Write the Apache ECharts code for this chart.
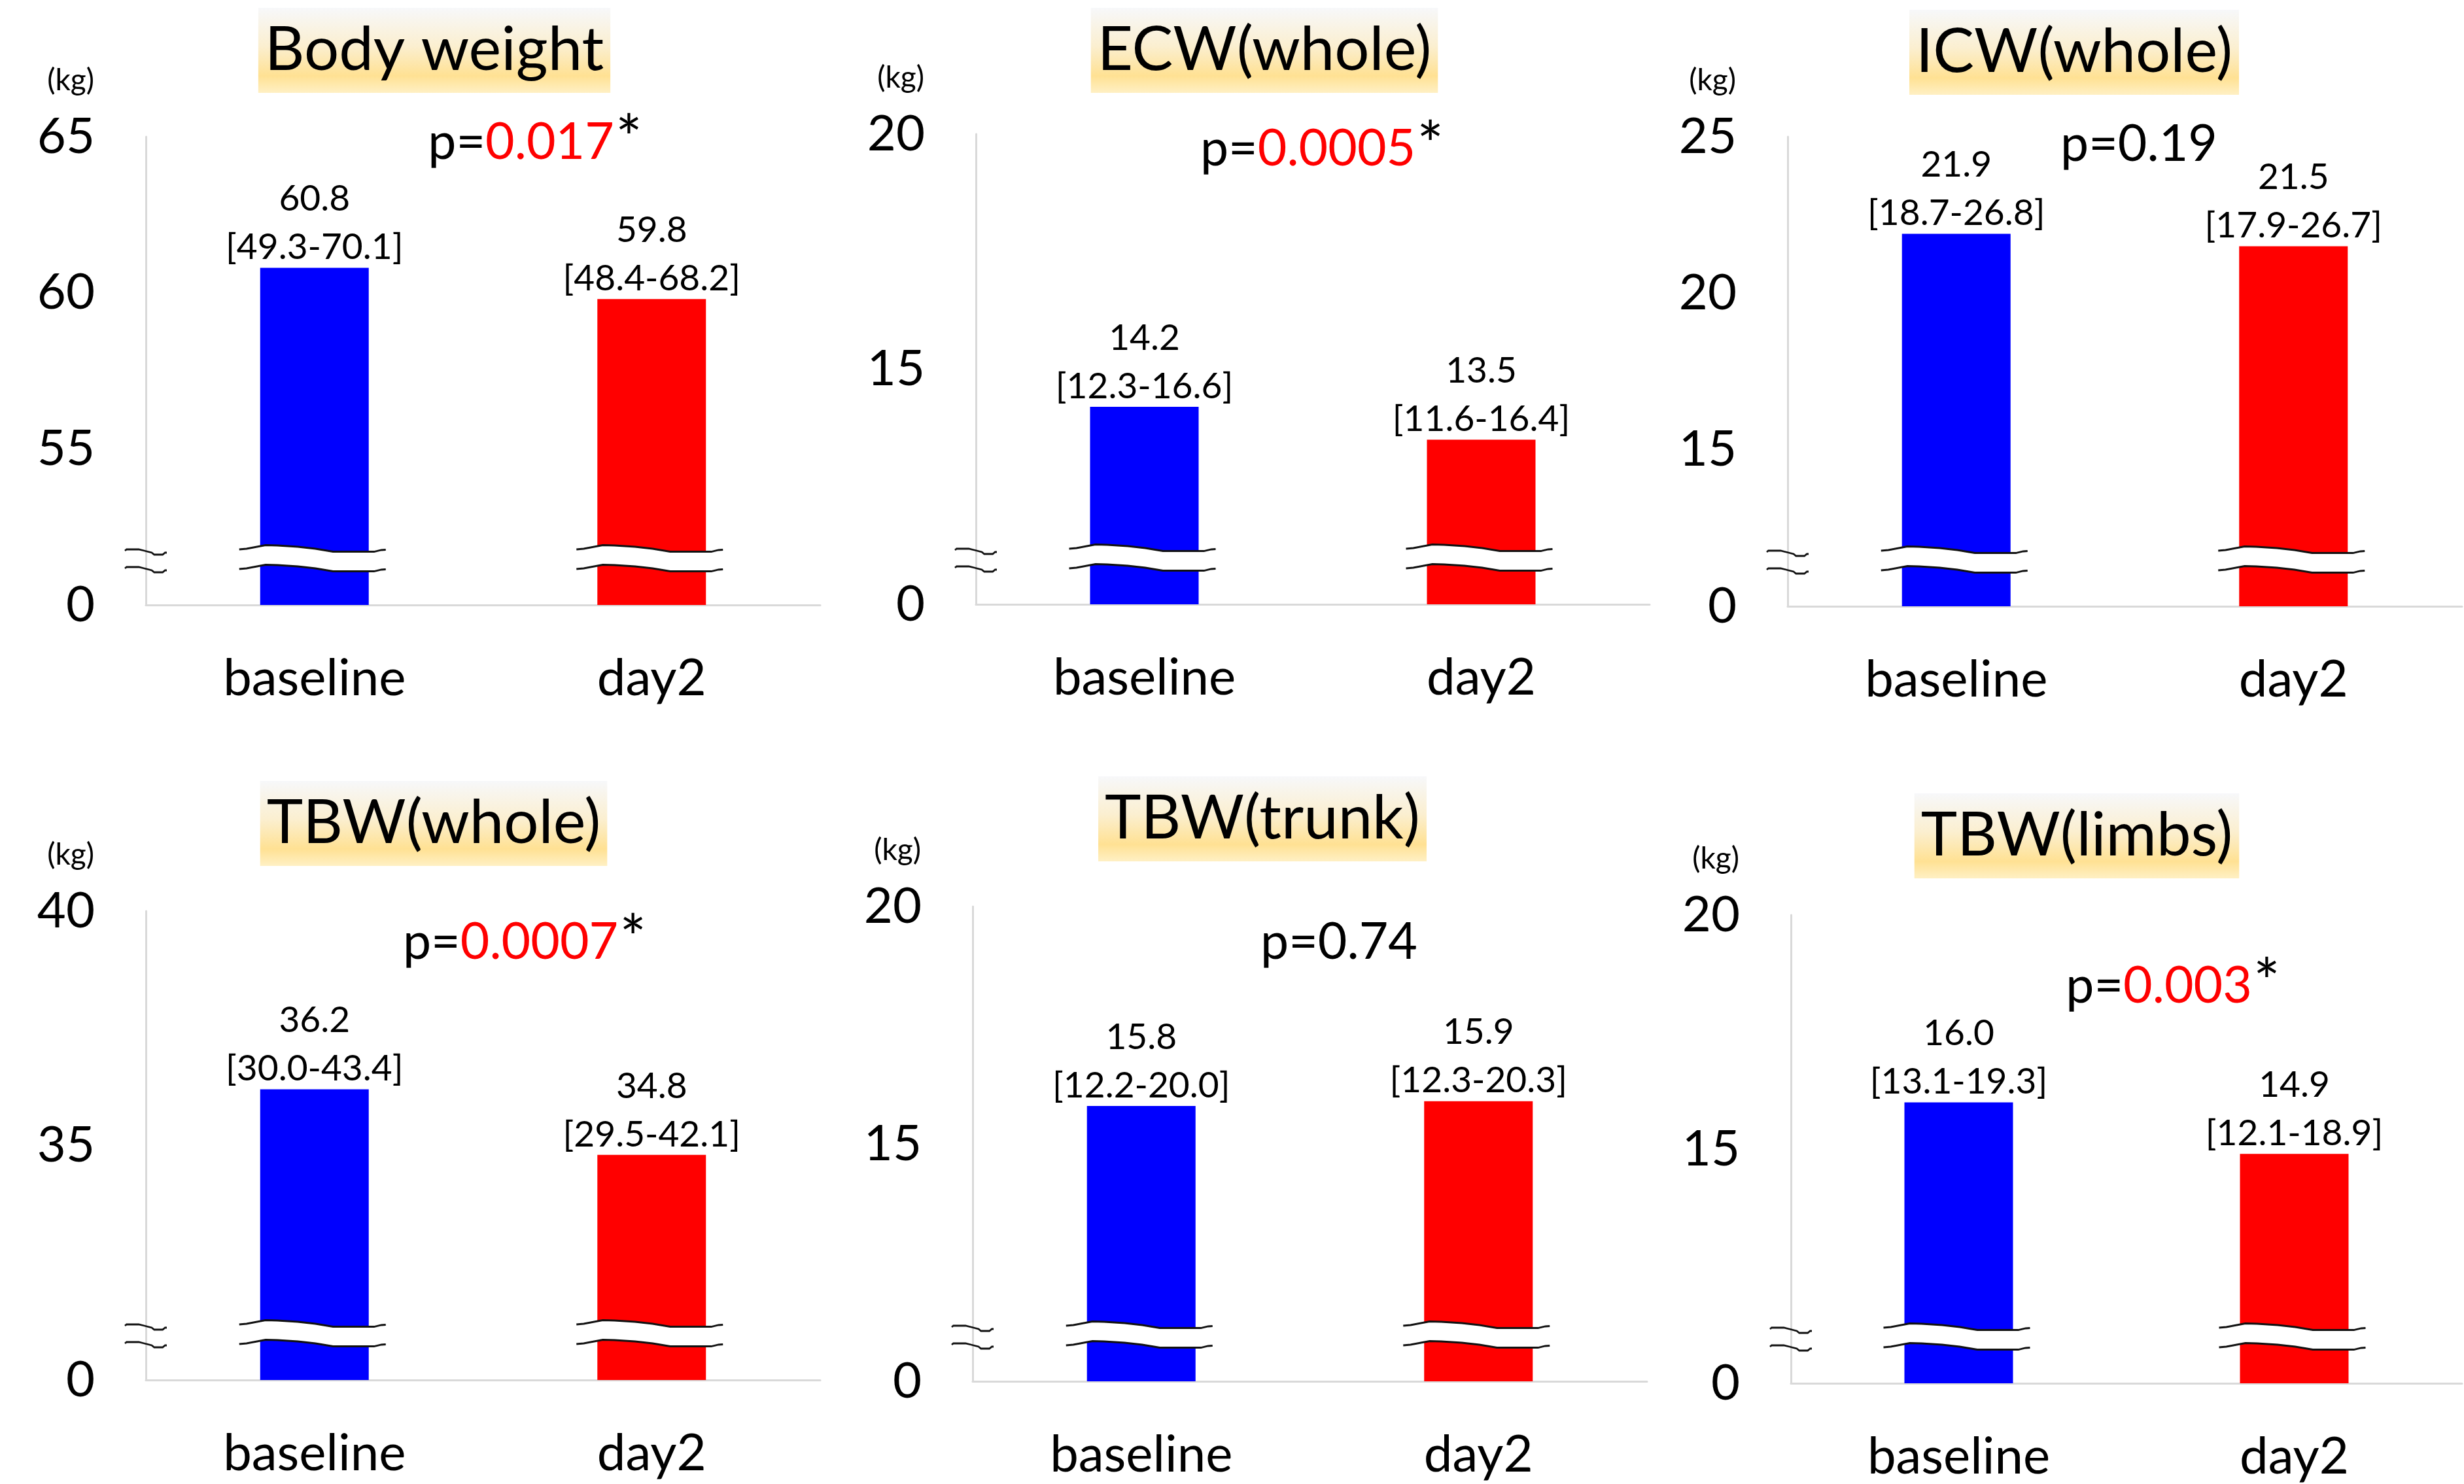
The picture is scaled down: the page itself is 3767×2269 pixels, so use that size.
<!DOCTYPE html>
<html><head><meta charset="utf-8">
<script src="https://cdn.jsdelivr.net/npm/echarts@6/dist/echarts.min.js"></script>
<style>html,body{margin:0;padding:0;background:#fff}#c{width:3767px;height:2269px}</style>
</head><body><div id="c"></div>
<script>
// ---------------- data ----------------
const categories = ['baseline', 'day2'];
const panelTitles = ['Body weight', 'ECW(whole)', 'ICW(whole)', 'TBW(whole)', 'TBW(trunk)', 'TBW(limbs)'];

const bodyWeight = [60.8, 59.8];
const bodyWeightLo = [49.3, 48.4];
const bodyWeightHi = [70.1, 68.2];

const ecwWhole = [14.2, 13.5];
const ecwWholeLo = [12.3, 11.6];
const ecwWholeHi = [16.6, 16.4];

const icwWhole = [21.9, 21.5];
const icwWholeLo = [18.7, 17.9];
const icwWholeHi = [26.8, 26.7];

const tbwWhole = [36.2, 34.8];
const tbwWholeLo = [30.0, 29.5];
const tbwWholeHi = [43.4, 42.1];

const tbwTrunk = [15.8, 15.9];
const tbwTrunkLo = [12.2, 12.3];
const tbwTrunkHi = [20.0, 20.3];

const tbwLimbs = [16.0, 14.9];
const tbwLimbsLo = [13.1, 12.1];
const tbwLimbsHi = [19.3, 18.9];

const pValues = ['0.017', '0.0005', '0.19', '0.0007', '0.74', '0.003'];
const pSignificant = [true, true, false, true, false, true];

// axis: value range shown above the break (the bottom tick is labelled "0")
const axisMin = [50, 10, 10, 30, 10, 10];
const axisMax = [65, 20, 25, 40, 20, 20];
const axisStep = 5;
const unitLabel = '(kg)';

// ---------------- layout / style ----------------
const FONT = 'Lato';
const barColors = ['#0000FF', '#FF0000'];
const grids = [
  {left: 223, top: 209, width: 1031, height: 716},
  {left: 1492, top: 205, width: 1030, height: 719},
  {left: 2733, top: 209, width: 1031, height: 718},
  {left: 223, top: 1393, width: 1031, height: 717},
  {left: 1487, top: 1386, width: 1031, height: 726},
  {left: 2738, top: 1399, width: 1026, height: 716}
];
const titlePos = [[664, 12], [1933, 12], [3171, 15], [663, 1194], [1930, 1187], [3175, 1213]];
const pPos = [[818, 218], [2021, 228], [3270, 221], [802, 1441], [2047, 1441], [3322, 1508]];

const panelValues = [bodyWeight, ecwWhole, icwWhole, tbwWhole, tbwTrunk, tbwLimbs];
const panelLo = [bodyWeightLo, ecwWholeLo, icwWholeLo, tbwWholeLo, tbwTrunkLo, tbwLimbsLo];
const panelHi = [bodyWeightHi, ecwWholeHi, icwWholeHi, tbwWholeHi, tbwTrunkHi, tbwLimbsHi];

const barWave = [[0,1],[0.05,0],[0.18,-5.5],[0.26,-5],[0.4,-3],[0.52,0],[0.64,4.5],[0.92,4.5],[0.97,2],[1,1.5]];
const axisWave = [[0,2],[0.04,0],[0.33,0],[0.46,2],[0.64,5],[0.7,8],[0.9,8],[0.96,5],[1,5]];

function wavePts(wave, x0, x1, y0) {
  return wave.map(p => [x0 + (x1 - x0) * p[0], y0 + p[1]]);
}

function breakRender(params, api) {
  const c = api.coord([api.value(0), api.value(1)]);
  const cx = c[0], by = c[1];
  const x0 = cx - 115, x1 = cx + 109;
  const up = wavePts(barWave, x0, x1, by - 86);
  const lo = wavePts(barWave, x0, x1, by - 56);
  const lineStyle = {stroke: '#111', lineWidth: 2.8, fill: null};
  const children = [
    {type: 'polygon', shape: {points: up.concat(lo.slice().reverse())}, style: {fill: '#fff'}},
    {type: 'polyline', shape: {points: up}, style: lineStyle},
    {type: 'polyline', shape: {points: lo}, style: lineStyle}
  ];
  if (params.dataIndex === 0) {
    const ax = params.coordSys.x;
    children.push({type: 'polyline', shape: {points: wavePts(axisWave, ax - 32, ax + 32, by - 85)}, style: lineStyle});
    children.push({type: 'polyline', shape: {points: wavePts(axisWave, ax - 32, ax + 32, by - 58)}, style: lineStyle});
  }
  return {type: 'group', children: children};
}

const option = {
  animation: false,
  backgroundColor: '#fff',
  title: [],
  grid: [],
  xAxis: [],
  yAxis: [],
  series: []
};

for (let k = 0; k < 6; k++) {
  const g = grids[k];
  option.grid.push({left: g.left, top: g.top, width: g.width, height: g.height, containLabel: false});
  option.xAxis.push({
    type: 'category', gridIndex: k, data: categories,
    axisTick: {show: false},
    axisLine: {show: true, lineStyle: {color: '#d9d9d9', width: 3}},
    axisLabel: {fontSize: 78, lineHeight: 78, margin: 74, color: '#000', fontFamily: FONT}
  });
  const mn = axisMin[k];
  option.yAxis.push({
    type: 'value', gridIndex: k, min: mn, max: axisMax[k], interval: axisStep,
    splitLine: {show: false},
    axisTick: {show: false},
    axisLine: {show: true, lineStyle: {color: '#d9d9d9', width: 3}},
    axisLabel: {fontSize: 76, margin: 78, color: '#000', fontFamily: FONT,
      formatter: v => (v === mn ? '0' : String(v))},
    name: unitLabel, nameLocation: 'end', nameGap: 86,
    nameTextStyle: {fontSize: 46, color: '#000', fontFamily: FONT, align: 'right',
      verticalAlign: 'middle', padding: [0, 79, 0, 0]}
  });
  const vals = panelValues[k], lo = panelLo[k], hi = panelHi[k];
  option.series.push({
    type: 'bar', xAxisIndex: k, yAxisIndex: k, barWidth: 166, z: 2,
    data: vals.map((v, i) => ({value: v, itemStyle: {color: barColors[i]}})),
    label: {
      show: true, position: 'top', distance: -6, color: '#000', fontFamily: FONT,
      fontSize: 55, lineHeight: 74, align: 'center',
      formatter: p => vals[p.dataIndex].toFixed(1) + '\n[' + lo[p.dataIndex].toFixed(1) + '-' + hi[p.dataIndex].toFixed(1) + ']'
    }
  });
  option.series.push({
    type: 'custom', xAxisIndex: k, yAxisIndex: k, z: 5, clip: false, silent: true,
    renderItem: breakRender,
    encode: {x: 0, y: 1},
    data: categories.map((c, i) => [i, mn])
  });
  // panel title box
  const padL = 10;
  option.title.push({
    text: panelTitles[k],
    left: titlePos[k][0] - padL, top: titlePos[k][1], textAlign: 'center',
    padding: [17, padL, 17, padL],
    backgroundColor: {type: 'linear', x: 0, y: 0, x2: 0, y2: 1, colorStops: [
      {offset: 0, color: '#f7f8fa'}, {offset: 0.45, color: '#fbefd0'},
      {offset: 0.8, color: '#ffe193'}, {offset: 1, color: '#fff0c4'}]},
    textStyle: {fontSize: 94, lineHeight: 96, fontWeight: 'normal', color: '#000', fontFamily: FONT}
  });
  // p value
  const pText = pSignificant[k] ? '{n|p=}{r|' + pValues[k] + '}{a|*}' : '{n|p=' + pValues[k] + '}';
  option.title.push({
    text: pText,
    left: pPos[k][0], top: pPos[k][1] - 40, textAlign: 'center', padding: 0,
    textStyle: {fontSize: 77, lineHeight: 80, fontWeight: 'normal', fontFamily: FONT,
      rich: {
        n: {fontSize: 77, lineHeight: 80, color: '#000', fontFamily: FONT},
        r: {fontSize: 77, lineHeight: 80, color: '#FF0000', fontFamily: FONT},
        a: {fontSize: 96, lineHeight: 80, color: '#000', fontFamily: FONT, padding: [0, 0, 6, 2]}
      }}
  });
}

const chart = echarts.init(document.getElementById('c'), null, {renderer: 'canvas', width: 3767, height: 2269});
chart.setOption(option);
</script>
</body></html>
